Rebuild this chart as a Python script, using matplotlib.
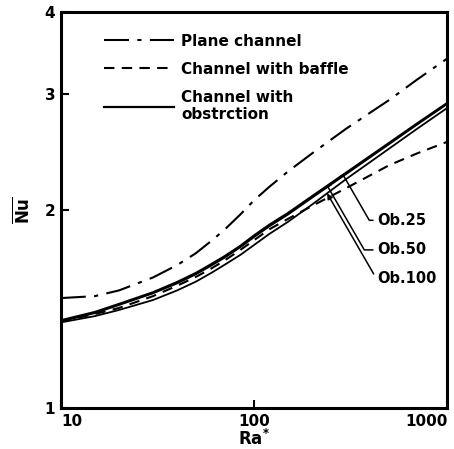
import numpy as np
import matplotlib
matplotlib.use('Agg')
import matplotlib.pyplot as plt
from matplotlib.ticker import FixedLocator, FixedFormatter, NullLocator

# Ra* sample points and Nu values
ra = [10, 15, 20, 30, 40, 50, 60, 70, 85, 100, 120, 150, 200, 300, 500, 700, 1000]

nu_plane = [1.47, 1.48, 1.51, 1.58, 1.65, 1.72, 1.795, 1.865, 1.97, 2.07,
            2.17, 2.29, 2.44, 2.66, 2.94, 3.16, 3.40]
nu_baffle = [1.355, 1.39, 1.42, 1.48, 1.535, 1.583, 1.63, 1.675, 1.74, 1.80,
             1.87, 1.94, 2.03, 2.16, 2.34, 2.44, 2.54]
nu_ob25 = [1.36, 1.40, 1.44, 1.50, 1.555, 1.605, 1.655, 1.70, 1.765, 1.83,
           1.90, 1.98, 2.10, 2.28, 2.53, 2.71, 2.91]
nu_ob50 = [1.355, 1.395, 1.435, 1.495, 1.548, 1.598, 1.647, 1.692, 1.757, 1.82,
           1.89, 1.97, 2.09, 2.27, 2.52, 2.70, 2.90]
nu_ob100 = [1.35, 1.38, 1.41, 1.46, 1.51, 1.557, 1.605, 1.65, 1.71, 1.77,
            1.84, 1.92, 2.04, 2.23, 2.48, 2.66, 2.86]

ob_labels = ['Ob.25', 'Ob.50', 'Ob.100']
ob_point_ra = [289, 241, 239]
ob_text_pos = [(434, 1.93), (434, 1.74), (434, 1.575)]

plt.rcParams['font.family'] = ['DejaVu Sans']
plt.rcParams['font.weight'] = 'bold'
plt.rcParams['axes.labelweight'] = 'bold'
plt.rcParams['mathtext.default'] = 'bf'

fig = plt.figure(figsize=(4.54, 4.49), dpi=100)
ax = fig.add_axes([0.134, 0.091, 0.851, 0.882])

ax.plot(ra, nu_plane, color='black', lw=1.5, dashes=(12, 4, 2, 4),
        label='Plane channel')
ax.plot(ra, nu_baffle, color='black', lw=1.5, dashes=(5, 3.5),
        label='Channel with baffle')
ax.plot(ra, nu_ob25, color='black', lw=1.6, label='Channel with\nobstrction')
ax.plot(ra, nu_ob50, color='black', lw=1.4)
ax.plot(ra, nu_ob100, color='black', lw=1.3)

ax.set_xscale('log')
ax.set_yscale('log')
ax.set_xlim(10, 1000)
ax.set_ylim(1, 4)

ax.xaxis.set_major_locator(FixedLocator([10, 100, 1000]))
ax.xaxis.set_major_formatter(FixedFormatter(['10', '100', '1000']))
ax.xaxis.set_minor_locator(NullLocator())
ax.yaxis.set_major_locator(FixedLocator([1, 2, 3, 4]))
ax.yaxis.set_major_formatter(FixedFormatter(['1', '2', '3', '4']))
ax.yaxis.set_minor_locator(NullLocator())
ax.tick_params(direction='in', length=6, width=1.5, labelsize=11, pad=4)
xlabels = ax.get_xticklabels()
xlabels[0].set_ha('left')
xlabels[-1].set_ha('right')

for s in ax.spines.values():
    s.set_linewidth(2.2)

ax.set_xlabel('Ra$^{*}$', fontsize=12, labelpad=0)
ax.set_ylabel(r'$\overline{\mathrm{\mathbf{Nu}}}$', fontsize=12, labelpad=8)

# obstruction labels with leaders
curves = [nu_ob25, nu_ob50, nu_ob100]
for lab, pra, tpos, cur in zip(ob_labels, ob_point_ra, ob_text_pos, curves):
    pnu = np.exp(np.interp(np.log(pra), np.log(ra), np.log(cur)))
    style = '-|>' if lab == 'Ob.100' else '-[, widthB=0.35, lengthB=0'
    ax.annotate(lab, xy=(pra, pnu), xytext=tpos, fontsize=10.5,
                va='center', ha='left',
                arrowprops=dict(arrowstyle=style, color='black', lw=1.1,
                                shrinkA=1, shrinkB=0, mutation_scale=8,
                                connectionstyle='angle,angleA=180,angleB=120,rad=0'))

ax.legend(loc='upper left', bbox_to_anchor=(0.075, 0.98), frameon=False,
          fontsize=11, handlelength=4.6, handletextpad=0.5, labelspacing=0.85)

fig.savefig('out.png', dpi=100)
